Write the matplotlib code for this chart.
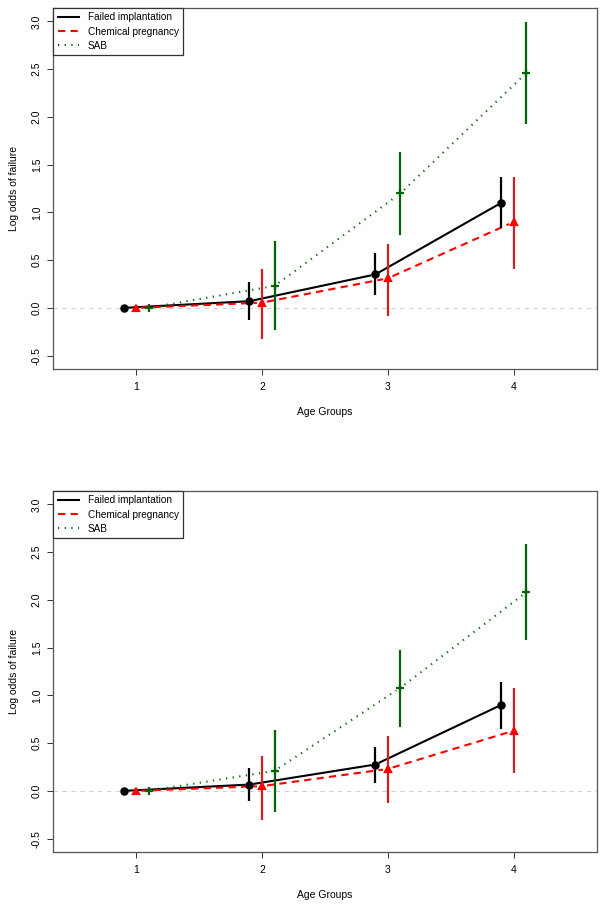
import matplotlib
matplotlib.use("Agg")
import matplotlib.pyplot as plt
import numpy as np

plt.rcParams['font.family'] = ['Liberation Sans', 'DejaVu Sans']
plt.rcParams['axes.unicode_minus'] = False

# age groups and series (log odds with 95% CI) for the two panels
groups = [1, 2, 3, 4]
offsets = {'fail': -0.1, 'chem': 0.0, 'sab': 0.1}

top_fail = [0.0, 0.07, 0.35, 1.10]
top_fail_lo = [0.0, -0.13, 0.14, 0.84]
top_fail_hi = [0.0, 0.27, 0.57, 1.37]
top_chem = [0.0, 0.055, 0.31, 0.90]
top_chem_lo = [0.0, -0.33, -0.08, 0.41]
top_chem_hi = [0.0, 0.41, 0.67, 1.37]
top_sab = [0.0, 0.23, 1.20, 2.46]
top_sab_lo = [0.0, -0.23, 0.76, 1.92]
top_sab_hi = [0.0, 0.70, 1.63, 2.99]

bot_fail = [0.0, 0.066, 0.276, 0.90]
bot_fail_lo = [0.0, -0.11, 0.08, 0.65]
bot_fail_hi = [0.0, 0.24, 0.46, 1.14]
bot_chem = [0.0, 0.05, 0.23, 0.63]
bot_chem_lo = [0.0, -0.30, -0.13, 0.19]
bot_chem_hi = [0.0, 0.37, 0.57, 1.08]
bot_sab = [0.0, 0.21, 1.08, 2.08]
bot_sab_lo = [0.0, -0.22, 0.67, 1.58]
bot_sab_hi = [0.0, 0.64, 1.48, 2.58]

labels = ['Failed implantation', 'Chemical pregnancy', 'SAB']
y_ticks = [-0.5, 0.0, 0.5, 1.0, 1.5, 2.0, 2.5, 3.0]


def gapped_line(ax, xs, ys, gap, **kw):
    # R type="b": segments stop short of the points
    tr = ax.transData
    inv = tr.inverted()
    pts = tr.transform(np.column_stack([xs, ys]))
    for a, b in zip(pts[:-1], pts[1:]):
        d = b - a
        n = np.hypot(*d)
        if n <= 2 * gap:
            continue
        u = d / n
        seg = inv.transform(np.array([a + u * gap, b - u * gap]))
        ax.plot(seg[:, 0], seg[:, 1], **kw)


def panel(ax, fail, fail_lo, fail_hi, chem, chem_lo, chem_hi, sab, sab_lo, sab_hi):
    ax.set_xlim(0.34, 4.66)
    ax.set_ylim(-0.64, 3.14)
    ax.axhline(0, color='#d0d0d0', lw=0.8, ls=(0, (4, 4)), zorder=0)

    series = [
        ('fail', fail, fail_lo, fail_hi, 'black', 'black', '-', 'o', 4.5),
        ('chem', chem, chem_lo, chem_hi, 'red', '#d21f26', (0, (3.5, 2.5)), '^', 4.8),
        ('sab', sab, sab_lo, sab_hi, '#006400', '#006400', (0, (0.6, 2.6)), '+', 6),
    ]
    handles = []
    for key, v, lo, hi, col, ecol, ls, mk, ms in series:
        xs = np.array(groups) + offsets[key]
        gapped_line(ax, xs, v, 5, color=col, lw=1.5, ls=ls, zorder=2)
        for x, a, b in zip(xs, lo, hi):
            if a != b:
                ax.plot([x, x], [a, b], color=ecol, lw=1.6, solid_capstyle='butt', zorder=3)
        ax.plot(xs, v, ls='none', marker=mk, ms=ms, color=col, mew=1.6, zorder=4)
        h, = ax.plot([], [], color=col, lw=1.5, ls=ls)
        handles.append(h)

    leg = ax.legend(handles, labels, loc='upper left', borderaxespad=0, fancybox=False,
                    framealpha=1, edgecolor='#333333', fontsize=7.2, handlelength=2.1,
                    handletextpad=0.9, labelspacing=0.42, borderpad=0.45)
    leg.get_frame().set_linewidth(0.9)

    ax.set_xticks(groups)
    ax.set_yticks(y_ticks)
    ax.set_yticklabels(['%.1f' % t for t in y_ticks], rotation=90, va='center')
    ax.tick_params(axis='both', direction='out', length=4, width=0.7, colors='#333333',
                   labelsize=7.5, labelcolor='black')
    ax.tick_params(axis='x', pad=5.6)
    ax.tick_params(axis='y', pad=4)
    for s in ax.spines.values():
        s.set_color('#555555')
        s.set_linewidth(0.9)
    ax.set_xlabel('Age Groups', fontsize=7.5, labelpad=10.7)
    ax.set_ylabel('Log odds of failure', fontsize=7.5, labelpad=9.3)


fig = plt.figure(figsize=(6.03, 9.06), dpi=100)
ax1 = fig.add_axes([0.0879, 0.5927, 0.902, 0.3985])
ax2 = fig.add_axes([0.0879, 0.0596, 0.902, 0.3985])

panel(ax1, top_fail, top_fail_lo, top_fail_hi, top_chem, top_chem_lo, top_chem_hi,
      top_sab, top_sab_lo, top_sab_hi)
panel(ax2, bot_fail, bot_fail_lo, bot_fail_hi, bot_chem, bot_chem_lo, bot_chem_hi,
      bot_sab, bot_sab_lo, bot_sab_hi)

fig.savefig('out.png', dpi=100)
